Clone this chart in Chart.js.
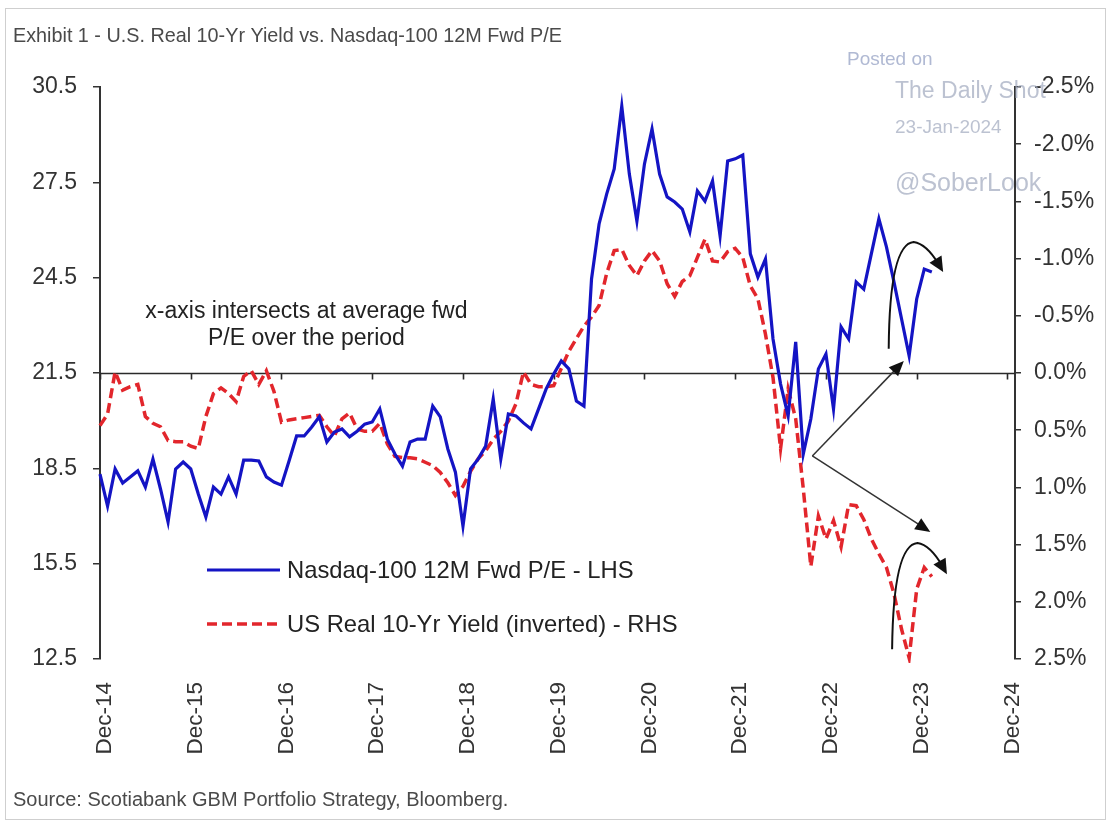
<!DOCTYPE html>
<html lang="en">
<head>
  <meta charset="UTF-8" />
  <title>U.S. Real 10-Yr Yield vs. Nasdaq-100 12M Fwd P/E</title>
  <script src="https://cdn.jsdelivr.net/npm/chart.js"></script>
  <style>
    html, body { margin: 0; padding: 0; background: #fff; }
    canvas { display: block; }
  </style>
</head>
<body>
  <canvas id="peChart" width="1110" height="825"></canvas>

  <script>
    // Monthly observations starting Dec-14 (index 0 = Dec-14)
    const yearTicks = ["Dec-14", "Dec-15", "Dec-16", "Dec-17", "Dec-18", "Dec-19",
                       "Dec-20", "Dec-21", "Dec-22", "Dec-23", "Dec-24"];
    const peTicks = [12.5, 15.5, 18.5, 21.5, 24.5, 27.5, 30.5];
    const yieldTicks = [-2.5, -2.0, -1.5, -1.0, -0.5, 0.0, 0.5, 1.0, 1.5, 2.0, 2.5];
    const peAverage = 21.5;   // x-axis crosses here

    const nasdaqPE = [
      18.32, 17.31, 18.48, 18.04, 18.23, 18.42, 17.91, 18.79, 17.85, 16.81, 18.48, 18.70,
      18.48, 17.69, 16.97, 17.91, 17.69, 18.23, 17.69, 18.76, 18.76, 18.73, 18.23, 18.07,
      17.97, 18.73, 19.52, 19.52, 19.80, 20.12, 19.33, 19.64, 19.74, 19.49, 19.67, 19.89,
      19.96, 20.37, 19.42, 18.95, 18.57, 19.33, 19.42, 19.42, 20.46, 20.12, 19.11, 18.38,
      16.68, 18.48, 18.79, 19.20, 20.68, 18.79, 20.21, 20.15, 19.93, 19.74, 20.37, 21.00,
      21.47, 21.88, 21.63, 20.62, 20.46, 24.46, 26.19, 27.13, 27.92, 29.90, 27.76, 26.28,
      28.08, 29.18, 27.76, 27.04, 26.88, 26.66, 25.94, 27.23, 26.91, 27.54, 25.81, 28.17,
      28.24, 28.36, 25.25, 24.52, 25.09, 22.57, 21.15, 20.15, 22.48, 18.95, 20.05, 21.63,
      22.10, 20.37, 22.95, 22.57, 24.36, 24.14, 25.25, 26.35, 25.47, 24.36, 23.20, 22.04,
      23.83, 24.77, 24.68
    ];

    const realYield = [
      0.46, 0.36, -0.01, 0.15, 0.12, 0.10, 0.38, 0.44, 0.47, 0.59, 0.60, 0.60,
      0.64, 0.66, 0.38, 0.18, 0.13, 0.18, 0.25, 0.03, -0.02, 0.10, -0.02, 0.16,
      0.43, 0.41, 0.40, 0.39, 0.38, 0.37, 0.47, 0.55, 0.40, 0.35, 0.49, 0.51,
      0.51, 0.44, 0.62, 0.73, 0.74, 0.74, 0.75, 0.78, 0.81, 0.87, 0.96, 1.07,
      0.99, 0.86, 0.75, 0.68, 0.58, 0.51, 0.42, 0.27, -0.01, 0.10, 0.12, 0.12,
      0.11, -0.04, -0.19, -0.30, -0.41, -0.49, -0.59, -0.87, -1.07, -1.08, -0.94, -0.85,
      -0.98, -1.07, -0.98, -0.78, -0.67, -0.80, -0.85, -1.01, -1.17, -0.98, -0.97, -1.06,
      -1.09, -1.01, -0.76, -0.65, -0.34, 0.04, 0.66, 0.14, 0.40, 1.01, 1.69, 1.25,
      1.45, 1.29, 1.52, 1.15, 1.16, 1.28, 1.45, 1.58, 1.70, 1.93, 2.24, 2.49,
      1.89, 1.70, 1.78
    ];

    // Hand-drawn arrows, in (month, P/E) coordinates
    const straightArrows = [
      [[94.2, 18.89], [106.3, 21.88]],
      [[94.2, 18.89], [109.8, 16.5]]
    ];
    const curvedArrows = [
      [[104.3, 22.26], [104.4, 25.56], [107.6, 25.62], [109.3, 25.56], [111.5, 24.68]],
      [[104.75, 12.81], [104.9, 16.09], [108.1, 16.15], [109.8, 16.09], [112.0, 15.17]]
    ];

    const FONT = "'Liberation Sans', Arial, sans-serif";
    Chart.defaults.font.family = FONT;

    function arrowHead(ctx, fx, fy, tx, ty, len, half) {
      const a = Math.atan2(ty - fy, tx - fx);
      const bx = tx - len * Math.cos(a), by = ty - len * Math.sin(a);
      ctx.beginPath();
      ctx.moveTo(tx, ty);
      ctx.lineTo(bx + half * Math.sin(a), by - half * Math.cos(a));
      ctx.lineTo(bx - half * Math.sin(a), by + half * Math.cos(a));
      ctx.closePath();
      ctx.fill();
    }

    const decorations = {
      id: 'decorations',
      beforeDraw(chart) {
        const { ctx } = chart;
        ctx.save();
        ctx.fillStyle = '#fff';
        ctx.fillRect(0, 0, chart.width, chart.height);
        ctx.strokeStyle = '#cfcfcf';
        ctx.lineWidth = 1;
        ctx.strokeRect(5.5, 8.5, chart.width - 10, chart.height - 14);

        ctx.fillStyle = '#4a4a4a';
        ctx.textBaseline = 'middle';
        ctx.font = `19.8px ${FONT}`;
        ctx.fillText('Exhibit 1 - U.S. Real 10-Yr Yield vs. Nasdaq-100 12M Fwd P/E', 13, 37);
        ctx.font = `20px ${FONT}`;
        ctx.fillText('Source: Scotiabank GBM Portfolio Strategy, Bloomberg.', 13, 800);
        ctx.restore();
      },
      beforeDatasetsDraw(chart) {
        // horizontal axis crossing at the average P/E, with year ticks
        const { ctx, chartArea: a, scales: { x, yPE } } = chart;
        const y0 = Math.round(yPE.getPixelForValue(peAverage)) + 0.5;
        ctx.save();
        ctx.strokeStyle = '#2a2a2a';
        ctx.lineWidth = 1.6;
        ctx.beginPath();
        ctx.moveTo(a.left, y0);
        ctx.lineTo(a.right, y0);
        x.ticks.forEach(t => {
          const px = Math.round(x.getPixelForValue(t.value)) + 0.5;
          ctx.moveTo(px, y0);
          ctx.lineTo(px, y0 + 6);
        });
        ctx.stroke();
        ctx.restore();
      },
      afterDatasetsDraw(chart) {
        const { ctx, chartArea: a, scales: { x, yPE } } = chart;
        const px = p => [x.getPixelForValue(p[0]), yPE.getPixelForValue(p[1])];
        ctx.save();

        // note on the crossing axis
        ctx.fillStyle = '#222';
        ctx.font = `23px ${FONT}`;
        ctx.textAlign = 'center';
        ctx.textBaseline = 'middle';
        const [nx, ny] = px([27.3, 23.42]);
        ctx.fillText('x-axis intersects at average fwd', nx, ny);
        ctx.fillText('P/E over the period', nx, ny + 27);

        // arrows
        ctx.strokeStyle = '#333';
        ctx.fillStyle = '#111';
        ctx.lineWidth = 1.5;
        straightArrows.forEach(([s, e]) => {
          const [sx, sy] = px(s), [ex, ey] = px(e);
          const ang = Math.atan2(ey - sy, ex - sx);
          ctx.beginPath();
          ctx.moveTo(sx, sy);
          ctx.lineTo(ex - 10 * Math.cos(ang), ey - 10 * Math.sin(ang));
          ctx.stroke();
          arrowHead(ctx, sx, sy, ex, ey, 15, 6.5);
        });
        ctx.strokeStyle = '#111';
        ctx.lineWidth = 2;
        curvedArrows.forEach(pts => {
          const [s, c1, p, c2, e] = pts.map(px);
          const ang = Math.atan2(e[1] - c2[1], e[0] - c2[0]);
          ctx.beginPath();
          ctx.moveTo(s[0], s[1]);
          ctx.quadraticCurveTo(c1[0], c1[1], p[0], p[1]);
          ctx.quadraticCurveTo(c2[0], c2[1], e[0] - 9 * Math.cos(ang), e[1] - 9 * Math.sin(ang));
          ctx.stroke();
          arrowHead(ctx, c2[0], c2[1], e[0], e[1], 15, 7);
        });

        // legend inside the plot
        ctx.textAlign = 'left';
        ctx.font = `23.8px ${FONT}`;
        chart.data.datasets.forEach((ds, i) => {
          const ly = a.bottom - 89 + i * 54;
          const lx = a.left + 107;
          ctx.strokeStyle = ds.borderColor;
          ctx.lineWidth = ds.borderWidth;
          ctx.setLineDash(ds.borderDash || []);
          ctx.beginPath();
          ctx.moveTo(lx, ly);
          ctx.lineTo(lx + 73, ly);
          ctx.stroke();
          ctx.setLineDash([]);
          ctx.fillStyle = '#222';
          ctx.fillText(ds.label, lx + 80, ly + 1);
        });
        ctx.restore();
      },
      afterDraw(chart) {
        const { ctx } = chart;
        ctx.save();
        ctx.textBaseline = 'middle';
        ctx.textAlign = 'left';
        ctx.fillStyle = 'rgba(150, 162, 196, 0.75)';
        ctx.font = `19px ${FONT}`;
        ctx.fillText('Posted on', 847, 60);
        ctx.fillStyle = 'rgba(160, 168, 190, 0.7)';
        ctx.font = `23px ${FONT}`;
        ctx.fillText('The Daily Shot', 895, 92);
        ctx.font = `19px ${FONT}`;
        ctx.fillText('23-Jan-2024', 895, 128);
        ctx.font = `25px ${FONT}`;
        ctx.fillText('@SoberLook', 895, 184);
        ctx.restore();
      }
    };

    const ctx = document.getElementById('peChart').getContext('2d');
    new Chart(ctx, {
      type: 'line',
      data: {
        datasets: [{
          label: 'Nasdaq-100 12M Fwd P/E - LHS',
          data: nasdaqPE.map((v, i) => ({ x: i, y: v })),
          yAxisID: 'yPE',
          borderColor: '#1414c4',
          borderWidth: 3.2,
          pointRadius: 0,
          tension: 0,
          clip: 4
        }, {
          label: 'US Real 10-Yr Yield (inverted) - RHS',
          data: realYield.map((v, i) => ({ x: i, y: v })),
          yAxisID: 'yYield',
          borderColor: '#e2262c',
          borderWidth: 3.5,
          borderDash: [10, 5],
          pointRadius: 0,
          tension: 0,
          clip: 4
        }]
      },
      options: {
        responsive: false,
        animation: false,
        devicePixelRatio: 1,
        layout: { padding: { top: 87, left: 0, right: 0, bottom: 0 } },
        plugins: {
          legend: { display: false },
          tooltip: { enabled: false }
        },
        scales: {
          x: {
            type: 'linear',
            min: 0,
            max: 121,
            afterBuildTicks: s => { s.ticks = yearTicks.map((_, i) => ({ value: i * 12 })); },
            afterFit: s => { s.height = 166; },
            grid: { display: false },
            border: { display: false },
            ticks: {
              autoSkip: false,
              minRotation: 90,
              maxRotation: 90,
              padding: 15,
              labelOffset: 5,
              color: '#333',
              font: { size: 22.5 },
              callback: v => yearTicks[Math.round(v / 12)]
            }
          },
          yPE: {
            type: 'linear',
            position: 'left',
            min: 12.5,
            max: 30.5,
            afterBuildTicks: s => { s.ticks = peTicks.map(v => ({ value: v })); },
            afterFit: s => { s.width = 100; },
            grid: { drawOnChartArea: false, tickLength: 7, tickColor: '#333', lineWidth: 1.5 },
            border: { color: '#333', width: 2 },
            ticks: { padding: 16, color: '#333', font: { size: 23 }, callback: v => v.toFixed(1) }
          },
          yYield: {
            type: 'linear',
            position: 'right',
            min: -2.5,
            max: 2.5,
            reverse: true,
            afterBuildTicks: s => { s.ticks = yieldTicks.map(v => ({ value: v })); },
            afterFit: s => { s.width = 95; },
            grid: { drawOnChartArea: false, tickLength: 6, tickColor: '#333', lineWidth: 1.5 },
            border: { color: '#333', width: 2 },
            ticks: { padding: 13, color: '#333', font: { size: 23 }, callback: v => v.toFixed(1) + '%' }
          }
        }
      },
      plugins: [decorations]
    });
  </script>
</body>
</html>
